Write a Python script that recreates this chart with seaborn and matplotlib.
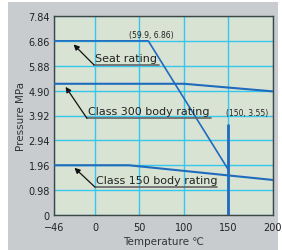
import matplotlib
matplotlib.use("Agg")
import matplotlib.pyplot as plt
import seaborn as sns
import pandas as pd
from matplotlib.patches import Rectangle

sns.set_theme(style="white")
plt.rcParams['font.family'] = ['DejaVu Sans']

# Data
seat_temp = [-46, 59.9, 150, 150]
seat_press = [6.86, 6.86, 3.55, 0]
c300_temp = [-46, 100, 200]
c300_press = [5.17, 5.17, 4.87]
c150_temp = [-46, 38, 200]
c150_press = [1.96, 1.96, 1.38]
xticks = [-46, 0, 50, 100, 150, 200]
yticks = [0, 0.98, 1.96, 2.94, 3.92, 4.90, 5.88, 6.86, 7.84]
ytick_labels = ["0", "0.98", "1.96", "2.94", "3.92", "4.90", "5.88", "6.86", "7.84"]

W, H = 282, 251
fig = plt.figure(figsize=(W/100, H/100), dpi=100, facecolor="white")
fig.patches.append(Rectangle((8/W, 0), 270/W, 248/H, transform=fig.transFigure,
                             facecolor="#c9cccf", edgecolor="none", zorder=-10))
ax = fig.add_axes([54/W, 1-216/H, 219/W, 199/H])
ax.set_facecolor("#d8e3d3")

line_color = "#1f6bbd"
for t, p, lw in [(seat_temp, seat_press, 1.2), (c300_temp, c300_press, 1.5), (c150_temp, c150_press, 1.5)]:
    df = pd.DataFrame({"t": t, "p": p})
    sns.lineplot(data=df, x="t", y="p", sort=False, color=line_color, lw=lw, ax=ax, zorder=3)
# vertical part thicker
ax.plot([150, 150], [3.55, 0], color=line_color, lw=2.0, zorder=3)

ax.set_xlim(-46, 200)
ax.set_ylim(0, 7.84)
ax.set_xticks(xticks)
ax.set_xticklabels(["\u221246", "0", "50", "100", "150", "200"])
ax.set_yticks(yticks)
ax.set_yticklabels(ytick_labels)
ax.tick_params(axis="both", labelsize=7, colors="#222222", length=0)
ax.tick_params(axis="x", pad=5)
ax.tick_params(axis="y", pad=3)
ax.grid(True, color="#36c6ee", lw=1.0, zorder=1)
ax.set_axisbelow(True)
for s in ax.spines.values():
    s.set_color("#444444")
    s.set_linewidth(1.0)

ax.set_xlabel("Temperature \u2103", fontsize=7.5, color="#333333", labelpad=3)
ax.set_ylabel("Pressure MPa", fontsize=7.5, color="#333333", labelpad=2)

fs = 8
ax.text(38, 7.1, "(59.9, 6.86)", fontsize=5.5, color="#222222", ha="left", va="center")
ax.text(147, 4.05, "(150, 3.55)", fontsize=5.5, color="#222222", ha="left", va="center")

def label(txt, x0, x1, yline, ax_tip, ay_tip):
    ax.text(x0 + 1, yline + 0.08, txt, fontsize=fs, color="#222222", ha="left", va="bottom", zorder=5)
    ax.plot([x0, x1], [yline, yline], color="#666666", lw=1.2, zorder=4)
    ax.annotate("", xy=(ax_tip, ay_tip), xytext=(x0, yline),
                arrowprops=dict(arrowstyle="-|>", color="#111111", lw=0.9,
                                mutation_scale=8, shrinkA=0, shrinkB=0), zorder=5)

label("Seat rating", -1, 72, 5.91, -24, 6.72)
label("Class 300 body rating", -9, 130, 3.81, -33, 5.05)
label("Class 150 body rating", 0, 137, 1.10, -23, 1.86)

fig.savefig("out.png", dpi=100, facecolor=fig.get_facecolor())
